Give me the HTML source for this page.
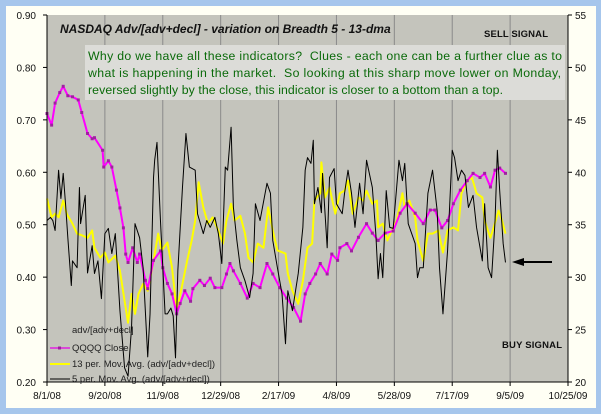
<!DOCTYPE html>
<html><head><meta charset="utf-8"><style>
body{margin:0;background:#a6c6ec;}
svg{display:block;font-family:"Liberation Sans",sans-serif;}
.pre{white-space:pre;}
</style></head><body>
<svg id="c" width="601" height="414">
<rect x="6" y="6" width="590" height="402" fill="#fffff4"/>
<rect x="47" y="15" width="521" height="367" fill="#c4c4bc"/>
<g id="grid"></g>
<g id="series"></g>
<g id="axes"></g>
<text x="60" y="33" font-size="12" font-weight="bold" font-style="italic" fill="#111">NASDAQ Adv/[adv+decl] - variation on Breadth 5 - 13-dma</text>
<text x="484" y="37" font-size="9.5" font-weight="bold" fill="#111" textLength="64">SELL SIGNAL</text>
<text x="502" y="348" font-size="9.5" font-weight="bold" fill="#111" textLength="60">BUY SIGNAL</text>
<g>
<rect x="85" y="45" width="480" height="55" fill="#dcdcd8"/>
<text class="pre" x="88" y="60" font-size="12.3" fill="#0a6a0a" textLength="474">Why do we have all these indicators?  Clues - each one can be a further clue as to</text>
<text class="pre" x="88" y="77" font-size="12.3" fill="#0a6a0a" textLength="473">what is happening in the market.  So looking at this sharp move lower on Monday,</text>
<text class="pre" x="88" y="94" font-size="12.3" fill="#0a6a0a" textLength="415">reversed slightly by the close, this indicator is closer to a bottom than a top.</text>
</g>
<g>
<line x1="520" y1="262" x2="552" y2="262" stroke="#000" stroke-width="2"/>
<polygon points="512,262 524,258 524,266" fill="#000"/>
</g>
<g font-size="9.5" fill="#222">
<text x="72" y="333">adv/[adv+decl]</text>
<line x1="50" y1="348" x2="70" y2="348" stroke="#e020e0" stroke-width="1.5"/><rect x="58" y="346.5" width="3" height="3" fill="#a020a0"/>
<text x="72" y="351">QQQQ Close</text>
<line x1="50" y1="364" x2="70" y2="364" stroke="#ffff00" stroke-width="2"/>
<text x="72" y="367">13 per. Mov. Avg. (adv/[adv+decl])</text>
<line x1="50" y1="379" x2="70" y2="379" stroke="#000" stroke-width="1"/>
<text x="72" y="382">5 per. Mov. Avg. (adv/[adv+decl])</text>
</g>
</svg>
<script>
const xTickLabels=["8/1/08","9/20/08","11/9/08","12/29/08","2/17/09","4/8/09","5/28/09","7/17/09","9/5/09","10/25/09"];
const leftTicks=[0.20,0.30,0.40,0.50,0.60,0.70,0.80,0.90];
const rightTicks=[20,25,30,35,40,45,50,55];
const qqqqDays=[0,4,7,11,14,18,22,27,30,35,39,41,48,49,53,56,60,63,66,68,70,74,78,80,85,87,92,98,100,104,108,112,115,119,124,126,132,136,141,145,151,155,158,161,167,173,178,184,190,195,201,207,213,219,223,227,232,236,242,246,251,253,259,263,269,276,281,286,292,299,305,311,318,325,331,335,341,346,351,357,363,368,374,378,383,387,391,396];
const qqqqClose=[45.6,44.5,46.6,47.6,48.2,47.3,47.2,46.9,45.7,43.7,43.2,43.3,42.1,40.5,41.1,40.5,38.3,36.6,34.7,32.2,31.4,32.8,31.4,32.2,29.7,28.9,31.6,32.5,30.9,29.4,28.4,26.5,27.5,28.7,27.7,28.9,29.7,29.2,29.9,29.0,29.0,30.3,31.3,30.6,29.4,28.0,29.4,29.0,31.3,30.3,29.0,28.0,27.1,25.8,28.4,29.4,30.3,31.3,30.3,32.2,31.6,32.8,33.2,32.5,33.8,35.1,34.2,33.5,34.2,34.4,36.1,37.0,36.1,35.1,36.4,36.4,34.7,35.4,37.0,38.3,39.2,39.9,39.5,39.9,38.6,40.2,40.4,39.9];
const ma13Days=[0,4,7,10,14,17,22,26,31,35,39,41,46,50,53,59,63,67,70,73,76,79,83,87,92,96,99,104,108,112,117,121,125,128,131,135,139,143,148,152,155,159,162,167,171,174,178,182,187,191,195,199,206,208,212,217,221,225,229,231,236,237,240,244,249,253,257,260,264,269,273,276,281,285,286,290,294,298,302,307,309,313,318,320,325,329,333,338,342,346,351,355,358,363,367,371,376,378,383,385,390,393,396];
const ma13=[0.550,0.514,0.521,0.514,0.546,0.521,0.502,0.483,0.479,0.475,0.489,0.456,0.437,0.447,0.428,0.441,0.412,0.355,0.313,0.368,0.330,0.368,0.387,0.374,0.431,0.483,0.451,0.466,0.418,0.336,0.387,0.431,0.470,0.508,0.581,0.533,0.502,0.514,0.489,0.464,0.508,0.540,0.508,0.517,0.483,0.437,0.428,0.464,0.456,0.533,0.489,0.451,0.445,0.407,0.374,0.349,0.393,0.456,0.464,0.546,0.560,0.619,0.552,0.571,0.521,0.560,0.565,0.584,0.521,0.552,0.546,0.565,0.540,0.546,0.495,0.502,0.470,0.489,0.508,0.560,0.533,0.546,0.514,0.470,0.431,0.483,0.483,0.489,0.447,0.489,0.495,0.489,0.560,0.584,0.590,0.560,0.552,0.508,0.475,0.489,0.527,0.508,0.483];
const ma5Days=[0,3,5,7,10,12,14,16,18,21,22,26,28,29,33,35,39,41,44,47,50,53,56,59,63,67,70,73,76,80,83,87,89,92,93,95,98,102,104,107,109,111,113,117,120,123,128,130,135,138,141,145,148,151,154,156,159,161,164,167,171,175,178,180,184,190,193,195,199,203,206,208,212,217,221,223,225,228,230,231,234,237,238,242,244,248,250,255,257,260,263,266,270,273,276,281,284,286,288,290,293,296,299,302,304,307,309,312,318,320,322,325,329,333,337,339,342,346,350,352,355,358,361,364,368,371,376,378,381,384,387,389,391,394,396];
const ma5=[0.508,0.514,0.508,0.489,0.604,0.550,0.598,0.540,0.475,0.384,0.431,0.418,0.571,0.502,0.556,0.408,0.460,0.407,0.431,0.359,0.483,0.493,0.445,0.483,0.336,0.227,0.211,0.303,0.502,0.475,0.418,0.248,0.330,0.590,0.623,0.657,0.508,0.330,0.330,0.341,0.326,0.246,0.412,0.571,0.674,0.610,0.604,0.521,0.483,0.508,0.495,0.514,0.483,0.426,0.610,0.604,0.686,0.533,0.470,0.418,0.393,0.361,0.407,0.540,0.508,0.579,0.560,0.470,0.418,0.368,0.273,0.374,0.336,0.407,0.495,0.604,0.628,0.617,0.661,0.540,0.571,0.523,0.598,0.456,0.590,0.607,0.540,0.521,0.560,0.604,0.560,0.495,0.579,0.521,0.623,0.571,0.483,0.397,0.445,0.399,0.565,0.495,0.493,0.571,0.623,0.584,0.617,0.502,0.464,0.399,0.418,0.418,0.560,0.604,0.527,0.418,0.330,0.451,0.642,0.628,0.584,0.604,0.594,0.533,0.556,0.495,0.431,0.540,0.418,0.399,0.508,0.642,0.565,0.464,0.428];

const X0=47,X1=568,Y0=15,Y1=382,DAYS=450;
const xs=d=>X0+(d/DAYS)*(X1-X0);
const yl=v=>Y1-(v-0.2)/0.7*(Y1-Y0);
const yr=v=>Y1-(v-20)/35*(Y1-Y0);
const NS="http://www.w3.org/2000/svg";
function mk(tag,attrs,parent){const e=document.createElementNS(NS,tag);for(const k in attrs)e.setAttribute(k,attrs[k]);parent.appendChild(e);return e;}
const grid=document.getElementById('grid'),axes=document.getElementById('axes'),ser=document.getElementById('series');
xTickLabels.forEach((t,i)=>{
  const x=xs(i*50);
  if(i>0&&i<9){const g=mk('line',{x1:x,x2:x,y1:Y0,y2:Y1,stroke:'#8a8a8a','stroke-width':1},grid);
  
  }
  mk('line',{x1:x,x2:x,y1:Y1,y2:Y1+4,stroke:'#000'},axes);
  const tx=mk('text',{x:x,y:399,'font-size':10,'text-anchor':'middle',fill:'#111'},axes);tx.textContent=t;
  
  
});
mk('line',{x1:X0,x2:X0,y1:Y0,y2:Y1,stroke:'#000'},axes);
mk('line',{x1:X1,x2:X1,y1:Y0,y2:Y1,stroke:'#000'},axes);
mk('line',{x1:X0,x2:X1,y1:Y1,y2:Y1,stroke:'#000'},axes);
leftTicks.forEach(v=>{const y=yl(v);mk('line',{x1:X0-4,x2:X0,y1:y,y2:y,stroke:'#000'},axes);
  const t=mk('text',{x:36,y:y+4,'font-size':10,'text-anchor':'end',fill:'#111'},axes);t.textContent=v.toFixed(2);
  
  });
rightTicks.forEach(v=>{const y=yr(v);mk('line',{x1:X1,x2:X1+4,y1:y,y2:y,stroke:'#000'},axes);
  const t=mk('text',{x:575,y:y+4,'font-size':10,fill:'#111'},axes);t.textContent=v;
  
  });
function line(days,vals,yf,color,w,name){
  const p=mk('polyline',{points:days.map((d,i)=>xs(d)+','+yf(vals[i])).join(' '),fill:'none',stroke:color,'stroke-width':w,'stroke-linejoin':'round'},ser);
  
  
  return p;
}
line(ma13Days,ma13,yl,'#ffff00',2,'ma13-line');
line(qqqqDays,qqqqClose,yr,'#ff00ff',2,'qqqq-close-line');
qqqqDays.forEach((d,i)=>{const m=mk('rect',{x:xs(d)-1.5,y:yr(qqqqClose[i])-1.5,width:3,height:3,fill:'#a020a0'},ser);
  
  });
line(ma5Days,ma5,yl,'#000',1,'ma5-line');
</script>
</body></html>
